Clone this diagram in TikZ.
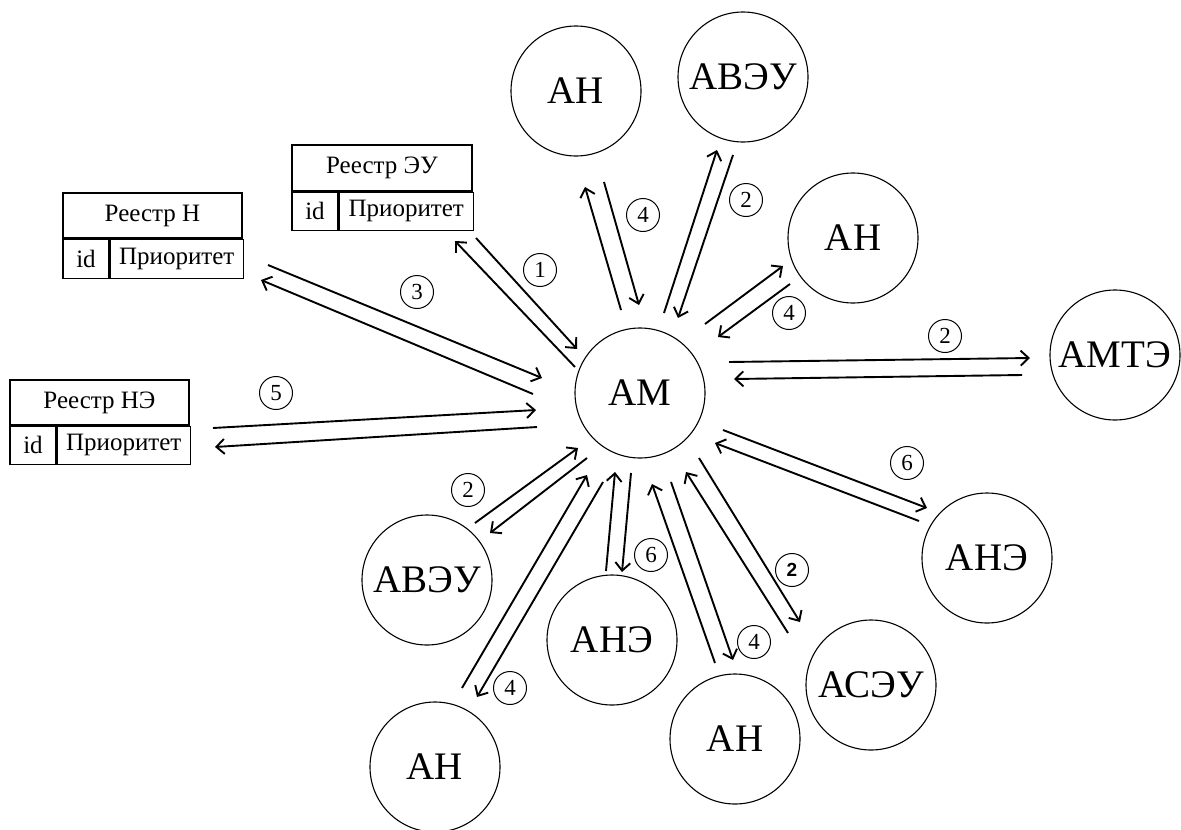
\documentclass[tikz,border=0pt]{standalone}
\usepackage{fontspec}
\setmainfont{Liberation Serif}
\newfontfamily\boldsans{Liberation Sans}
\usetikzlibrary{arrows.meta}
\tikzset{
  agent/.style={circle, draw, line width=1.1pt, minimum size=130pt, inner sep=0pt, font=\fontsize{39}{40}\selectfont},
  cell/.style={rectangle, draw, line width=1.3pt, inner sep=0pt, font=\fontsize{25}{27}\selectfont},
  lbl/.style={circle, draw, line width=1pt, minimum size=33pt, inner sep=0pt, font=\fontsize{23}{23}\selectfont},
  arr/.style={line width=1.9pt, -{Straight Barb[length=8pt, width=15pt, line width=1.9pt]}}
}
\begin{document}
\begin{tikzpicture}[x=1pt, y=-1pt]
\useasboundingbox (0,0) rectangle (1181,830);

% agents
\node[agent] (AM) at (640,393) {АМ};
\node[agent] (AHt) at (576,91) {АН};
\node[agent] (AVt) at (743,77) {АВЭУ};
\node[agent] (AHr) at (853,238) {АН};
\node[agent] (AMT) at (1115,355) {АМТЭ};
\node[agent] (ANEr) at (987,558) {АНЭ};
\node[agent] (ASE) at (871,685) {АСЭУ};
\node[agent] (AHbm) at (735,739) {АН};
\node[agent] (ANEm) at (612,640) {АНЭ};
\node[agent] (AVbl) at (427,580) {АВЭУ};
\node[agent] (AHbl) at (435,767) {АН};

% registry tables
\node[cell, minimum width=180pt, minimum height=46pt] (RET) at (382,168) {Реестр ЭУ};
\node[cell, minimum width=46pt, minimum height=38pt, anchor=north west] (REid) at (RET.south west) {id};
\node[cell, minimum width=134pt, minimum height=38pt, anchor=north west] (REpr) at (REid.north east) {Приоритет};

\node[cell, minimum width=179pt, minimum height=45pt] (RHT) at (152.5,215.5) {Реестр Н};
\node[cell, minimum width=46pt, minimum height=39pt, anchor=north west] (RHid) at (RHT.south west) {id};
\node[cell, minimum width=133pt, minimum height=39pt, anchor=north west] (RHpr) at (RHid.north east) {Приоритет};

\node[cell, minimum width=179pt, minimum height=45pt] (RNT) at (99.5,402.5) {Реестр НЭ};
\node[cell, minimum width=46pt, minimum height=38pt, anchor=north west] (RNid) at (RNT.south west) {id};
\node[cell, minimum width=133pt, minimum height=38pt, anchor=north west] (RNpr) at (RNid.north east) {Приоритет};

% connector end points
\coordinate (e1a) at (476,238); \coordinate (e1b) at (577,349);
\coordinate (e2a) at (575,367); \coordinate (e2b) at (455,241);
\coordinate (h1a) at (268,265); \coordinate (h1b) at (542,378);
\coordinate (h2a) at (533,394); \coordinate (h2b) at (261,280);
\coordinate (n1a) at (213,428); \coordinate (n1b) at (536,410);
\coordinate (n2a) at (537,427); \coordinate (n2b) at (215,447);
\coordinate (t1a) at (621,310); \coordinate (t1b) at (585,187);
\coordinate (t2a) at (604,182); \coordinate (t2b) at (639,305);
\coordinate (v1a) at (664,313); \coordinate (v1b) at (717,150);
\coordinate (v2a) at (733,155); \coordinate (v2b) at (678,318);
\coordinate (r1a) at (705,324); \coordinate (r1b) at (783,266);
\coordinate (r2a) at (790,284); \coordinate (r2b) at (718,337);
\coordinate (m1a) at (729,362); \coordinate (m1b) at (1030,358);
\coordinate (m2a) at (1022,375); \coordinate (m2b) at (734,379);
\coordinate (x1a) at (723,430); \coordinate (x1b) at (927,508);
\coordinate (x2a) at (919,521); \coordinate (x2b) at (715,443);
\coordinate (b1a) at (475,523); \coordinate (b1b) at (578,448);
\coordinate (b2a) at (587,458); \coordinate (b2b) at (490,533);
\coordinate (l1a) at (462,688); \coordinate (l1b) at (587,475);
\coordinate (l2a) at (603,482); \coordinate (l2b) at (477,697);
\coordinate (c1a) at (606,571); \coordinate (c1b) at (615,472);
\coordinate (c2a) at (631,473); \coordinate (c2b) at (622,572);
\coordinate (d1a) at (715,663); \coordinate (d1b) at (652,484);
\coordinate (d2a) at (671,482); \coordinate (d2b) at (733,660);
\coordinate (s1a) at (788,633); \coordinate (s1b) at (686,472);
\coordinate (s2a) at (699,458); \coordinate (s2b) at (800,622);

\foreach \p in {e1,e2,h1,h2,n1,n2,t1,t2,v1,v2,r1,r2,m1,m2,x1,x2,b1,b2,l1,l2,c1,c2,d1,d2,s1,s2}
  \draw[arr] (\p a) -- (\p b);

% step labels
\node[lbl] (L1) at (540,270) {1};
\node[lbl] (L3) at (417,292) {3};
\node[lbl] (L5) at (276,393) {5};
\node[lbl] (L4t) at (643,215) {4};
\node[lbl] (L2t) at (746,200) {2};
\node[lbl] (L4r) at (789,313) {4};
\node[lbl] (L2m) at (945,336) {2};
\node[lbl] (L6r) at (907,463) {6};
\node[lbl] (L2b) at (468,490) {2};
\node[lbl] (L4b) at (510,688) {4};
\node[lbl] (L6m) at (651,555) {6};
\node[lbl] (L4m) at (754,642) {4};
\node[lbl, font=\boldsans\bfseries\fontsize{19}{19}\selectfont] (L2s) at (792,570) {2};
\end{tikzpicture}
\end{document}
